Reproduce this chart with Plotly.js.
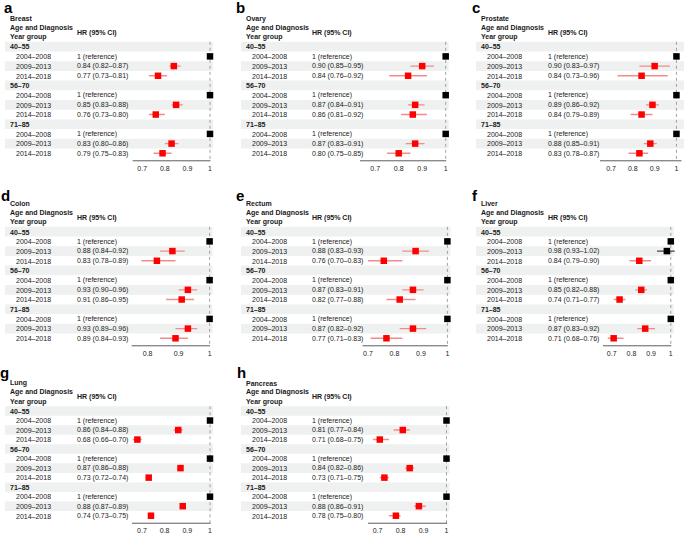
<!DOCTYPE html>
<html><head><meta charset="utf-8">
<script src="https://cdn.plot.ly/plotly-3.0.1.min.js"></script>
<style>html,body{margin:0;padding:0;background:#fff}</style>
</head><body><div id="chart" style="width:684px;height:537px"></div>
<script>
// ---------------- DATA ----------------
const panelLetters = ['a','b','c','d','e','f','g','h'];
const cancers = ['Breast','Ovary','Prostate','Colon','Rectum','Liver','Lung','Pancreas'];
const ageGroups = ['40–55','56–70','71–85'];
const periods = ['2004–2008','2009–2013','2014–2018'];
// values per age group: [2004–2008, 2009–2013, 2014–2018]
const breastHR   = [1,0.84,0.77, 1,0.85,0.76, 1,0.83,0.79];
const breastLo   = [1,0.82,0.73, 1,0.83,0.73, 1,0.80,0.75];
const breastHi   = [1,0.87,0.81, 1,0.88,0.80, 1,0.86,0.83];
const ovaryHR    = [1,0.90,0.84, 1,0.87,0.86, 1,0.87,0.80];
const ovaryLo    = [1,0.85,0.76, 1,0.84,0.81, 1,0.83,0.75];
const ovaryHi    = [1,0.95,0.92, 1,0.91,0.92, 1,0.91,0.85];
const prostateHR = [1,0.90,0.84, 1,0.89,0.84, 1,0.88,0.83];
const prostateLo = [1,0.83,0.73, 1,0.86,0.79, 1,0.85,0.78];
const prostateHi = [1,0.97,0.96, 1,0.92,0.89, 1,0.91,0.87];
const colonHR    = [1,0.88,0.83, 1,0.93,0.91, 1,0.93,0.89];
const colonLo    = [1,0.84,0.78, 1,0.90,0.86, 1,0.89,0.84];
const colonHi    = [1,0.92,0.89, 1,0.96,0.95, 1,0.96,0.93];
const rectumHR   = [1,0.88,0.76, 1,0.87,0.82, 1,0.87,0.77];
const rectumLo   = [1,0.83,0.70, 1,0.83,0.77, 1,0.82,0.71];
const rectumHi   = [1,0.93,0.83, 1,0.91,0.88, 1,0.92,0.83];
const liverHR    = [1,0.98,0.84, 1,0.85,0.74, 1,0.87,0.71];
const liverLo    = [1,0.93,0.79, 1,0.82,0.71, 1,0.83,0.68];
const liverHi    = [1,1.02,0.90, 1,0.88,0.77, 1,0.92,0.76];
const lungHR     = [1,0.86,0.68, 1,0.87,0.73, 1,0.88,0.74];
const lungLo     = [1,0.84,0.66, 1,0.86,0.72, 1,0.87,0.73];
const lungHi     = [1,0.88,0.70, 1,0.88,0.74, 1,0.89,0.75];
const pancHR     = [1,0.81,0.71, 1,0.84,0.73, 1,0.88,0.78];
const pancLo     = [1,0.77,0.68, 1,0.82,0.71, 1,0.86,0.75];
const pancHi     = [1,0.84,0.75, 1,0.86,0.75, 1,0.91,0.80];
const ticksStd   = [0.7,0.8,0.9,1];
const ticksColon = [0.8,0.9,1];
const tickTextStd   = ['0.7','0.8','0.9','1'];
const tickTextColon = ['0.8','0.9','1'];

const hrSets = [breastHR,ovaryHR,prostateHR,colonHR,rectumHR,liverHR,lungHR,pancHR];
const loSets = [breastLo,ovaryLo,prostateLo,colonLo,rectumLo,liverLo,lungLo,pancLo];
const hiSets = [breastHi,ovaryHi,prostateHi,colonHi,rectumHi,liverHi,lungHi,pancHi];
const tickSets = [ticksStd,ticksStd,ticksStd,ticksColon,ticksStd,ticksStd,ticksStd,ticksStd];
const tickTextSets = [tickTextStd,tickTextStd,tickTextStd,tickTextColon,tickTextStd,tickTextStd,tickTextStd,tickTextStd];

// ---------------- LAYOUT GEOMETRY (pixels) ----------------
const W = 684, H = 537;
const px = x => x / W, py = y => 1 - y / H;
const gridRows = [
  {row0: 46.7, pitch: 9.69, letterY: 7.8},
  {row0: 231.7, pitch: 9.69, letterY: 195.5},
  {row0: 411.0, pitch: 9.52, letterY: 372.0}
];
const geo = [
  {x1:210.0, s:22.6, xa:132.7, tx:10,  hx:76.7,  lx:8.7,   gr:0},
  {x1:445.7, s:23.5, xa:360.0, tx:246, hx:312.0, lx:240.5, gr:0},
  {x1:681.0, s:23.1, xa:600.0, tx:481, hx:547.7, lx:476.3, gr:0},
  {x1:209.6, s:31.0, xa:131.7, tx:10,  hx:76.7,  lx:5.5,   gr:1},
  {x1:447.4, s:26.5, xa:362.5, tx:246, hx:312.0, lx:240.0, gr:1},
  {x1:670.8, s:19.7, xa:603.0, tx:481, hx:547.7, lx:475.2, gr:1},
  {x1:210.0, s:22.7, xa:132.0, tx:10,  hx:76.7,  lx:4.5,   gr:2},
  {x1:446.5, s:23.0, xa:368.0, tx:246, hx:312.0, lx:241.7, gr:2}
];
const FONT = 'Liberation Sans, Arial, Helvetica, sans-serif';
const RED = '#ff0000', CI_RED = '#f48b8b', BLACK = '#000000', CI_BLACK = '#444444';
const BAND = '#eef1f0';

const traces = [], shapes = [], annotations = [];
const layout = {
  width: W, height: H, margin: {l:0, r:0, t:0, b:0},
  paper_bgcolor: '#ffffff', plot_bgcolor: 'rgba(0,0,0,0)',
  showlegend: false, font: {family: FONT, size: 7, color: '#222'},
  shapes, annotations
};

function ann(text, x, y, opts) {
  annotations.push(Object.assign({
    text, x: px(x), y: py(y), xref: 'paper', yref: 'paper',
    xanchor: 'left', yanchor: 'middle', showarrow: false,
    borderpad: 0, borderwidth: 0,
    font: {family: FONT, size: 7, color: '#1a1a1a'}
  }, opts || {}));
}

for (let k = 0; k < 8; k++) {
  const g = geo[k], R = gridRows[g.gr];
  const xName = k === 0 ? 'x' : 'x' + (k + 1);
  const yName = k === 0 ? 'y' : 'y' + (k + 1);
  const xKey = k === 0 ? 'xaxis' : 'xaxis' + (k + 1);
  const yKey = k === 0 ? 'yaxis' : 'yaxis' + (k + 1);
  const rowY = i => R.row0 + R.pitch * i;
  const axisPx = rowY(11) + 7.5;
  const extra = 8;
  const vStart = 1 - (g.x1 - g.xa) / (10 * g.s);
  const vEnd = 1 + extra / (10 * g.s);

  layout[xKey] = {
    domain: [px(g.xa), px(g.x1 + extra)], range: [vStart, vEnd],
    anchor: yName, showline: false, showgrid: false, zeroline: false,
    tickmode: 'array', tickvals: tickSets[k], ticktext: tickTextSets[k],
    ticks: '', ticklabelstandoff: 2,
    tickfont: {family: FONT, size: 7, color: '#222'}, fixedrange: true
  };
  layout[yKey] = {
    domain: [py(axisPx), py(R.row0 - R.pitch / 2)],
    range: [(axisPx - R.row0) / R.pitch, -0.5],
    anchor: xName, visible: false, fixedrange: true
  };

  // bands
  for (let i = 0; i < 12; i += 2) {
    shapes.push({type: 'rect', xref: 'paper', yref: 'paper', layer: 'below',
      x0: px(g.tx - 5), x1: px(g.x1 + 3), y0: py(rowY(i - 0.5)), y1: py(rowY(i + 0.5)),
      fillcolor: BAND, line: {width: 0}});
  }
  // reference line at 1
  shapes.push({type: 'line', xref: xName, yref: 'paper', layer: 'below',
    x0: 1, x1: 1, y0: py(R.row0 - R.pitch / 2), y1: py(axisPx),
    line: {color: '#8a8a8a', width: 0.8, dash: 'dot'}});
  // axis line
  shapes.push({type: 'line', xref: 'paper', yref: 'paper', layer: 'above',
    x0: px(g.xa), x1: px(g.x1 + 0.5), y0: py(axisPx), y1: py(axisPx),
    line: {color: '#333', width: 0.8}});

  // points
  const hr = hrSets[k], lo = loSets[k], hi = hiSets[k];
  const red = {x: [], y: [], ep: [], em: []}, blk = {x: [], y: [], ep: [], em: []};
  for (let a = 0; a < 3; a++) {
    for (let p = 0; p < 3; p++) {
      const idx = a * 3 + p, row = a * 4 + 1 + p;
      const sig = hi[idx] < 1;
      const t = sig ? red : blk;
      t.x.push(hr[idx]); t.y.push(row);
      t.ep.push(+(hi[idx] - hr[idx]).toFixed(3));
      t.em.push(+(hr[idx] - lo[idx]).toFixed(3));
    }
  }
  [[blk, BLACK, CI_BLACK], [red, RED, CI_RED]].forEach(([t, col, ciCol]) => {
    traces.push({type: 'scatter', mode: 'markers', x: t.x, y: t.y, xaxis: xName, yaxis: yName,
      cliponaxis: false, hoverinfo: 'skip',
      marker: {symbol: 'square', size: 6.5, color: col, line: {width: 0}},
      error_x: {type: 'data', symmetric: false, array: t.ep, arrayminus: t.em,
        color: ciCol, thickness: 1.4, width: 0}});
  });

  // texts
  ann('<b>' + panelLetters[k] + '</b>', g.lx, R.letterY,
    {xanchor: 'center', font: {family: FONT, size: 15, color: '#000'}});
  ann('<b>' + cancers[k] + '</b>', g.tx, R.row0 - 28.0);
  ann('<b>Age and Diagnosis</b>', g.tx, R.row0 - 18.9);
  ann('<b>Year group</b>', g.tx, R.row0 - 9.4);
  ann('<b>HR (95% CI)</b>', g.hx, R.row0 - 14.0);
  for (let a = 0; a < 3; a++) {
    ann('<b>' + ageGroups[a] + '</b>', g.tx, rowY(a * 4) + 0.3);
    for (let p = 0; p < 3; p++) {
      const idx = a * 3 + p, row = a * 4 + 1 + p;
      ann(periods[p], g.tx + 5.5, rowY(row) + 0.3);
      const txt = (p === 0 && hr[idx] === 1) ? '1 (reference)'
        : hr[idx].toFixed(2) + ' (' + lo[idx].toFixed(2) + '–' + hi[idx].toFixed(2) + ')';
      ann(txt, g.hx, rowY(row) + 0.3);
    }
  }
}

Plotly.newPlot('chart', traces, layout, {staticPlot: true, displayModeBar: false});
</script>
</body></html>
